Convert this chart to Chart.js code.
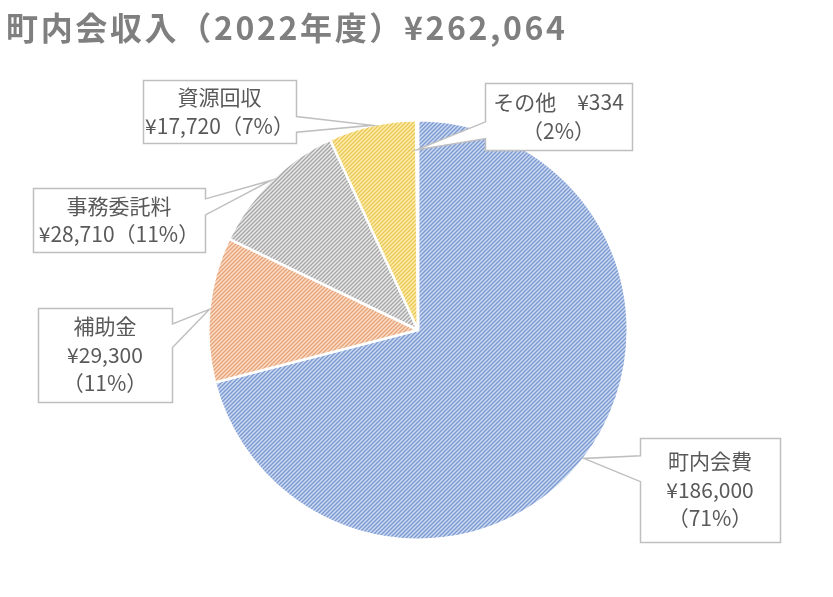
<!DOCTYPE html>
<html>
<head>
<meta charset="utf-8">
<script src="https://cdn.jsdelivr.net/npm/chart.js@4.4.0/dist/chart.umd.min.js"></script>
<style>
    html, body { margin: 0; padding: 0; background: #fff; }
    #wrap { width: 833px; height: 597px; }
</style>
</head>
<body>
<div id="wrap"><canvas id="pieChart"></canvas></div>
<script>
// Data
var titleText = '町内会収入（2022年度）¥262,064';
var categories = ['町内会費', '補助金', '事務委託料', '資源回収', 'その他'];
var amounts = [186000, 29300, 28710, 17720, 334];
var percentLabels = ['71%', '11%', '11%', '7%', '2%'];   // as printed on the chart

// Hatch colours (background / stripe)
var baseColors = ['#ccdaf2', '#fbdcc7', '#e9e9e9', '#feeeae'];
var stripeColors = ['#7b97d0', '#e6a377', '#a5a5a5', '#e9c655'];

// Callout boxes and how the text is split into lines
var boxes = [
    { x: 640, y: 438, w: 140, h: 104, split: 'stack' },
    { x: 38, y: 308, w: 134, h: 94, split: 'stack' },
    { x: 33, y: 188, w: 172, h: 64, split: 'name' },
    { x: 143, y: 80, w: 153, h: 63, split: 'name' },
    { x: 485, y: 83, w: 147, h: 67, split: 'pct' }
];
var anchorFactor = [1, 1, 1, 1, 0.86];

function yen(v) {
    return '¥' + v.toLocaleString('en-US');
}

function labelLines(i) {
    var pct = '（' + percentLabels[i] + '）';
    var split = boxes[i].split;
    if (split === 'stack') return [categories[i], yen(amounts[i]), pct];
    if (split === 'name') return [categories[i], yen(amounts[i]) + pct];
    return [categories[i] + '　' + yen(amounts[i]), pct];
}

function makeHatch(base, stripe) {
    var c = document.createElement('canvas');
    c.width = 4;
    c.height = 4;
    var g = c.getContext('2d');
    g.fillStyle = base;
    g.fillRect(0, 0, 4, 4);
    g.strokeStyle = stripe;
    g.lineWidth = 1.3;
    g.beginPath();
    g.moveTo(-1, 5); g.lineTo(5, -1);
    g.moveTo(-1, 1); g.lineTo(1, -1);
    g.moveTo(3, 5); g.lineTo(5, 3);
    g.stroke();
    return g.createPattern(c, 'repeat');
}

var sliceFills = [];
for (var i = 0; i < categories.length; i++) {
    var k = Math.min(i, baseColors.length - 1);
    sliceFills.push(makeHatch(baseColors[k], stripeColors[k]));
}

// Title + callout labels
var calloutPlugin = {
    id: 'callouts',
    afterDraw: function (chart) {
        var ctx = chart.ctx;
        ctx.save();

        // title
        ctx.font = 'bold 32px "Noto Sans CJK JP"';
        ctx.fillStyle = '#7f7f7f';
        ctx.textBaseline = 'middle';
        ctx.textAlign = 'left';
        var plain = ctx.measureText(titleText).width;
        var chars = Array.from(titleText).length;
        ctx.letterSpacing = Math.max(0, (559 - plain) / (chars - 1)) + 'px';
        ctx.fillText(titleText, 6, 28);
        ctx.letterSpacing = '0px';

        var arcs = chart.getDatasetMeta(0).data;
        arcs.forEach(function (arc, i) {
            var b = boxes[i];
            var mid = (arc.startAngle + arc.endAngle) / 2;
            var r = arc.outerRadius * anchorFactor[i];
            var ax = arc.x + Math.cos(mid) * r;
            var ay = arc.y + Math.sin(mid) * r;

            var x0 = b.x + 0.5, y0 = b.y + 0.5, x1 = b.x + b.w + 0.5, y1 = b.y + b.h + 0.5;
            var f = ay > b.y + b.h / 2 ? [0.58, 0.83] : [0.17, 0.42];
            var wy1 = b.y + b.h * f[0], wy2 = b.y + b.h * f[1];

            ctx.beginPath();
            ctx.moveTo(x0, y0);
            ctx.lineTo(x1, y0);
            if (ax > x1) {
                ctx.lineTo(x1, wy1);
                ctx.lineTo(ax, ay);
                ctx.lineTo(x1, wy2);
            }
            ctx.lineTo(x1, y1);
            ctx.lineTo(x0, y1);
            if (ax < x0) {
                ctx.lineTo(x0, wy2);
                ctx.lineTo(ax, ay);
                ctx.lineTo(x0, wy1);
            }
            ctx.closePath();
            ctx.fillStyle = '#ffffff';
            ctx.fill();
            ctx.strokeStyle = '#bfbfbf';
            ctx.lineWidth = 1.5;
            ctx.stroke();

            var lines = labelLines(i);
            var lh = 28.5;
            var cy = b.y + b.h / 2 - (lines.length - 1) * lh / 2;
            ctx.font = '21px "Noto Sans CJK JP"';
            ctx.fillStyle = '#595959';
            ctx.textAlign = 'center';
            ctx.textBaseline = 'middle';
            lines.forEach(function (t, j) {
                ctx.fillText(t, b.x + b.w / 2, cy + j * lh);
            });
        });
        ctx.restore();
    }
};

document.addEventListener('DOMContentLoaded', function () {
    var pieCtx = document.getElementById('pieChart').getContext('2d');
    var pieChart = new Chart(pieCtx, {
        type: 'pie',
        data: {
            labels: categories,
            datasets: [{
                data: amounts,
                backgroundColor: sliceFills,
                borderColor: '#ffffff',
                borderWidth: 2.5
            }]
        },
        options: {
            responsive: true,
            maintainAspectRatio: false,
            animation: false,
            events: [],
            layout: {
                padding: { top: 119, bottom: 56, left: 3, right: 0 }
            },
            plugins: {
                legend: { display: false },
                title: { display: false },
                tooltip: { enabled: false }
            }
        },
        plugins: [calloutPlugin]
    });
});
</script>
</body>
</html>
